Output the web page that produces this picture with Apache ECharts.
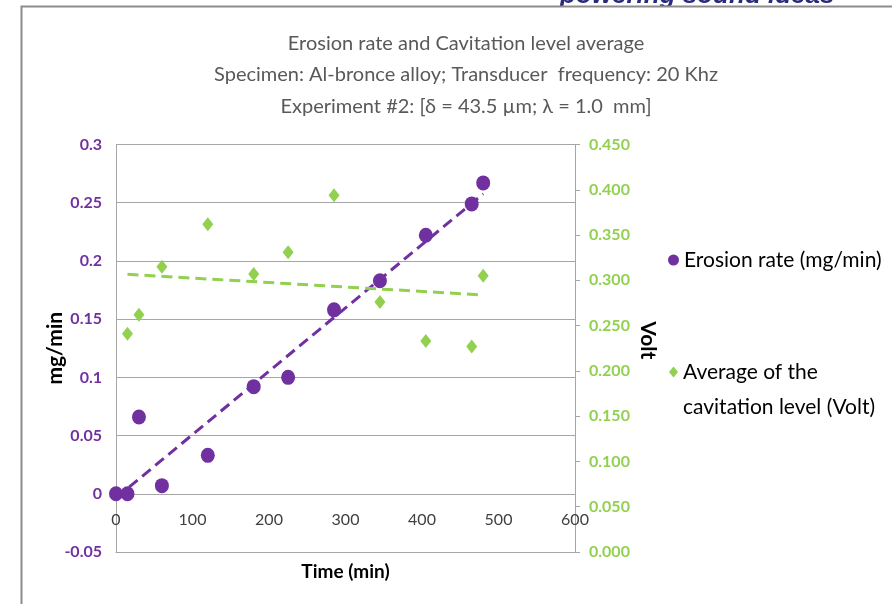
<!DOCTYPE html>
<html>
<head>
<meta charset="utf-8">
<script src="https://cdn.jsdelivr.net/npm/echarts@6/dist/echarts.min.js"></script>
<style>
html,body{margin:0;padding:0;background:#fff;}
#chart{width:892px;height:604px;}
</style>
</head>
<body>
<div id="chart"></div>
<script>
// ---- data ----
var erosionTime = [0, 15, 30, 60, 120, 180, 225, 285, 345, 405, 465, 480];
var erosionRate = [0, 0, 0.066, 0.007, 0.033, 0.092, 0.100, 0.158, 0.183, 0.222, 0.249, 0.267];
var cavTime = [15, 30, 60, 120, 180, 225, 285, 345, 405, 465, 480];
var cavLevel = [0.241, 0.262, 0.315, 0.362, 0.307, 0.331, 0.394, 0.276, 0.233, 0.227, 0.305];
var titleLines = [
  'Erosion rate and Cavitation level average',
  'Specimen: Al-bronce alloy; Transducer  frequency: 20 Khz',
  'Experiment #2: [\u03b4 = 43.5 \u00b5m; \u03bb = 1.0  mm]'
];
var nameErosion = 'Erosion rate (mg/min)';
var nameCav = 'Average of the cavitation level (Volt)';
var legendCavLines = ['Average of the', 'cavitation level (Volt)'];

// least-squares trendline (as the original spreadsheet's linear trendline)
function trend(xs, ys) {
  var n = xs.length, mx = 0, my = 0, sxy = 0, sxx = 0;
  for (var i = 0; i < n; i++) { mx += xs[i]; my += ys[i]; }
  mx /= n; my /= n;
  for (var j = 0; j < n; j++) { sxy += (xs[j]-mx)*(ys[j]-my); sxx += (xs[j]-mx)*(xs[j]-mx); }
  var b = sxy / sxx, a = my - b * mx;
  var x0 = Math.min.apply(null, xs), x1 = Math.max.apply(null, xs);
  return [[x0, a + b * x0], [x1, a + b * x1]];
}
function pairs(xs, ys) { return xs.map(function (x, i) { return [x, ys[i]]; }); }

var PURPLE = '#7030A0', GREEN = '#92D050';
var FONT = 'Lato, "Liberation Sans", sans-serif';
var chart = echarts.init(document.getElementById('chart'));
chart.setOption({
  backgroundColor: '#fff',
  animation: false,
  title: {
    text: titleLines.join('\n'),
    left: 461, top: 23, textAlign: 'center',
    textStyle: { fontFamily: FONT, fontSize: 20, fontWeight: 'normal', color: '#595959', lineHeight: 31.3 }
  },
  graphic: [
    { type: 'text', z: 1, style: { x: 560, y: 9, text: 'powering sound ideas', textVerticalAlign: 'bottom',
      font: 'italic bold 26px "Liberation Sans", sans-serif', fill: '#2b2b7c' }, silent: true },
    { type: 'rect', z: 2, shape: { x: 22, y: 7, width: 870, height: 5 }, style: { fill: '#fff' }, silent: true },
    { type: 'polyline', z: 10, shape: { points: [[21.5, 604], [21.5, 6.5], [892, 6.5]] },
      style: { stroke: '#8c8c8c', lineWidth: 2, fill: null }, silent: true }
  ],
  legend: [
    { data: [{ name: nameErosion, icon: 'circle' }], left: 668, top: 242.5, padding: 0,
      itemWidth: 11, itemHeight: 11, itemGap: 5,
      textStyle: { fontFamily: FONT, fontSize: 21, color: '#000', lineHeight: 35 } },
    { data: [{ name: nameCav, icon: 'diamond' }], left: 669, top: 319.5, padding: 0,
      itemWidth: 9, itemHeight: 11, itemGap: 6,
      formatter: function () { return ' \n' + legendCavLines.join('\n'); },
      textStyle: { fontFamily: FONT, fontSize: 21, color: '#000', lineHeight: 35 } }
  ],
  grid: { left: 116, right: 317, top: 144.5, bottom: 52, containLabel: false, outerBoundsMode: 'none' },
  xAxis: {
    type: 'value', min: 0, max: 600, interval: 100,
    name: 'Time (min)', nameLocation: 'middle', nameGap: 10, nameMoveOverlap: false,
    nameTextStyle: { fontFamily: FONT, fontSize: 19, fontWeight: 'bold', color: '#000' },
    axisLine: { show: true, onZero: false, lineStyle: { color: '#a6a6a6', width: 1 } },
    axisTick: { show: false },
    axisLabel: { margin: -40, fontFamily: FONT, fontSize: 16, color: '#404040' },
    splitLine: { show: false }
  },
  yAxis: [
    {
      type: 'value', min: -0.05, max: 0.3, interval: 0.05,
      name: 'mg/min', nameLocation: 'middle', nameRotate: 90, nameGap: 50, nameMoveOverlap: false,
      nameTextStyle: { fontFamily: FONT, fontSize: 21, fontWeight: 'bold', color: '#000' },
      axisLine: { show: true, onZero: false, lineStyle: { color: '#a6a6a6', width: 1 } },
      axisTick: { show: false },
      axisLabel: { margin: 14, fontFamily: FONT, fontSize: 16, fontWeight: 'bold', color: PURPLE,
        formatter: function (v) { return String(parseFloat(v.toFixed(2))); } },
      splitLine: { show: true, lineStyle: { color: '#a6a6a6', width: 1 } }
    },
    {
      type: 'value', min: 0, max: 0.45, interval: 0.05, position: 'right',
      name: 'Volt', nameLocation: 'middle', nameRotate: -90, nameGap: 62, nameMoveOverlap: false,
      nameTextStyle: { fontFamily: FONT, fontSize: 21, fontWeight: 'bold', color: '#000', padding: [0, 16, 0, 0] },
      axisLine: { show: true, onZero: false, lineStyle: { color: '#a6a6a6', width: 1 } },
      axisTick: { show: true, inside: false, length: 5, lineStyle: { color: '#a6a6a6' } },
      axisLabel: { margin: 14, fontFamily: FONT, fontSize: 16, fontWeight: 'bold', color: GREEN,
        formatter: function (v) { return v.toFixed(3); } },
      splitLine: { show: false }
    }
  ],
  series: [
    { name: nameErosion, type: 'scatter', yAxisIndex: 0, data: pairs(erosionTime, erosionRate),
      symbol: 'circle', symbolSize: [14, 15], itemStyle: { color: PURPLE, opacity: 1 }, z: 3 },
    { name: nameCav, type: 'scatter', yAxisIndex: 1, data: pairs(cavTime, cavLevel),
      symbol: 'diamond', symbolSize: [11, 14], itemStyle: { color: GREEN, opacity: 1 }, z: 3 },
    { name: 'trendErosion', type: 'line', yAxisIndex: 0, data: trend(erosionTime, erosionRate),
      symbol: 'none', lineStyle: { color: PURPLE, width: 3, type: [11, 6] }, z: 4, silent: true },
    { name: 'trendCav', type: 'line', yAxisIndex: 1, data: trend(cavTime, cavLevel),
      symbol: 'none', lineStyle: { color: GREEN, width: 3, type: [11, 6] }, z: 4, silent: true }
  ]
});
</script>
</body>
</html>
